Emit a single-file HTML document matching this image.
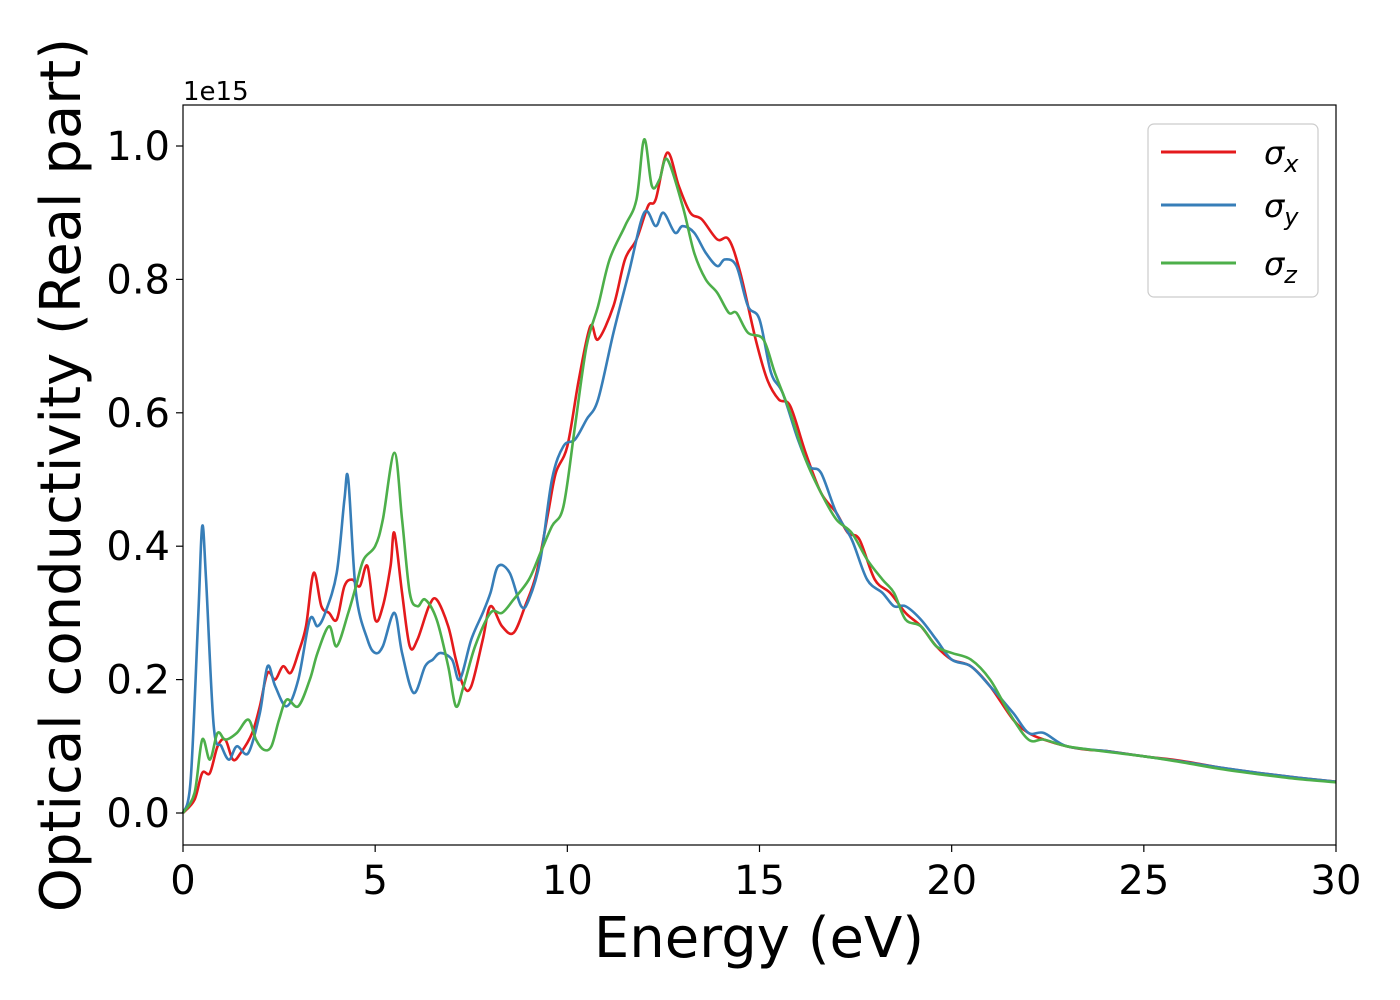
<!DOCTYPE html>
<html><head><meta charset="utf-8"><style>
body{margin:0;background:#fff;}
svg{display:block;font-family:"DejaVu Sans","Liberation Sans",sans-serif;}
</style></head><body>
<svg id="chart" width="1400" height="1000" xmlns="http://www.w3.org/2000/svg">
<rect width="1400" height="1000" fill="#fff"/>
<g id="plot"></g>
<rect x="183" y="105" width="1153" height="740" fill="none" stroke="#000" stroke-width="1.2"/>
<g id="ticks"></g>
<text x="183" y="100" font-size="26">1e15</text>
<text x="759" y="957" font-size="56" text-anchor="middle">Energy (eV)</text>
<text transform="translate(80,475) rotate(-90)" font-size="56" text-anchor="middle">Optical conductivity (Real part)</text>
<g>
<rect x="1148" y="124" width="170" height="173" rx="6" fill="#fff" stroke="#ccc" stroke-width="1.2"/>
<line x1="1161" y1="152" x2="1236" y2="152" stroke="#e41a1c" stroke-width="3"/>
<text x="1264" y="164" font-size="32" font-style="italic">σ<tspan font-size="24" dy="8">x</tspan></text>
<line x1="1161" y1="205" x2="1236" y2="205" stroke="#377eb8" stroke-width="3"/>
<text x="1264" y="217" font-size="32" font-style="italic">σ<tspan font-size="24" dy="8">y</tspan></text>
<line x1="1161" y1="263" x2="1236" y2="263" stroke="#4daf4a" stroke-width="3"/>
<text x="1264" y="275" font-size="32" font-style="italic">σ<tspan font-size="24" dy="8">z</tspan></text>
</g>
</svg>
<script>
const xTicks=[0,5,10,15,20,25,30];
const yTicks=[0,0.2,0.4,0.6,0.8,1.0];
const yTickLabels=["0.0","0.2","0.4","0.6","0.8","1.0"];
const redX=[0,0.3,0.5,0.7,0.9,1.1,1.3,1.5,1.8,2.0,2.2,2.4,2.6,2.8,3.0,3.2,3.4,3.6,3.8,4.0,4.2,4.4,4.6,4.8,5.0,5.2,5.4,5.5,5.7,5.9,6.1,6.4,6.6,6.9,7.1,7.3,7.5,7.8,8.0,8.3,8.6,8.9,9.2,9.5,9.7,10.0,10.3,10.6,10.8,11.2,11.5,11.8,12.1,12.3,12.6,12.9,13.2,13.5,13.9,14.2,14.5,14.9,15.2,15.5,15.8,16.2,16.6,17.0,17.3,17.6,18.0,18.4,18.8,19.2,19.6,20.0,20.5,21.0,21.6,22.0,22.4,23.0,23.5,24,25,26,27,28,29,30];
const redY=[0,0.02,0.06,0.06,0.10,0.11,0.08,0.09,0.12,0.16,0.21,0.20,0.22,0.21,0.24,0.28,0.36,0.31,0.30,0.29,0.34,0.35,0.34,0.37,0.29,0.31,0.37,0.42,0.33,0.25,0.26,0.31,0.32,0.28,0.23,0.19,0.19,0.26,0.31,0.28,0.27,0.31,0.36,0.45,0.51,0.55,0.65,0.73,0.71,0.76,0.83,0.86,0.91,0.92,0.99,0.94,0.90,0.89,0.86,0.86,0.81,0.71,0.65,0.62,0.61,0.54,0.48,0.45,0.42,0.41,0.35,0.33,0.30,0.28,0.25,0.23,0.22,0.19,0.14,0.12,0.11,0.10,0.095,0.093,0.085,0.078,0.068,0.06,0.053,0.047];
const blueX=[0,0.2,0.4,0.5,0.6,0.8,1.0,1.2,1.4,1.7,2.0,2.2,2.4,2.7,3.0,3.3,3.5,3.7,4.0,4.2,4.3,4.5,4.8,5.0,5.2,5.5,5.7,6.0,6.3,6.5,6.7,7.0,7.2,7.5,7.8,8.0,8.2,8.5,8.8,9.0,9.3,9.6,9.9,10.2,10.5,10.8,11.2,11.6,12.0,12.3,12.5,12.8,13.0,13.3,13.6,13.9,14.1,14.4,14.7,15.0,15.3,15.6,16.0,16.3,16.6,17.0,17.4,17.8,18.2,18.5,18.8,19.2,19.6,20.0,20.5,21.0,21.6,22.0,22.4,23,24,25,26,27,28,29,30];
const blueY=[0,0.05,0.30,0.43,0.35,0.13,0.10,0.08,0.10,0.09,0.15,0.22,0.19,0.16,0.20,0.29,0.28,0.30,0.36,0.47,0.50,0.33,0.26,0.24,0.25,0.30,0.24,0.18,0.22,0.23,0.24,0.23,0.20,0.26,0.30,0.33,0.37,0.36,0.31,0.32,0.38,0.50,0.55,0.56,0.59,0.62,0.72,0.81,0.90,0.88,0.90,0.87,0.88,0.87,0.84,0.82,0.83,0.82,0.76,0.74,0.66,0.63,0.56,0.52,0.51,0.45,0.41,0.35,0.33,0.31,0.31,0.29,0.26,0.23,0.22,0.19,0.15,0.12,0.12,0.10,0.093,0.085,0.077,0.068,0.06,0.053,0.047];
const greenX=[0,0.3,0.5,0.7,0.9,1.1,1.4,1.7,1.9,2.1,2.3,2.5,2.7,3.0,3.3,3.5,3.8,4.0,4.3,4.5,4.7,5.0,5.2,5.5,5.7,5.9,6.1,6.3,6.6,6.9,7.1,7.3,7.6,8.0,8.3,8.6,9.0,9.3,9.6,9.9,10.2,10.5,10.8,11.1,11.5,11.8,12.0,12.2,12.4,12.6,13.0,13.3,13.6,13.9,14.2,14.4,14.7,15.1,15.4,15.8,16.2,16.6,17.0,17.4,17.8,18.2,18.5,18.8,19.2,19.6,20.0,20.5,21.0,21.5,22.0,22.4,23,24,25,26,27,28,29,30];
const greenY=[0,0.03,0.11,0.08,0.12,0.11,0.12,0.14,0.11,0.095,0.10,0.14,0.17,0.16,0.20,0.24,0.28,0.25,0.30,0.34,0.38,0.40,0.44,0.54,0.44,0.33,0.31,0.32,0.29,0.22,0.16,0.19,0.25,0.30,0.30,0.32,0.35,0.39,0.43,0.46,0.58,0.70,0.76,0.83,0.88,0.92,1.01,0.94,0.95,0.98,0.91,0.84,0.80,0.78,0.75,0.75,0.72,0.71,0.66,0.60,0.53,0.48,0.44,0.42,0.38,0.35,0.33,0.29,0.28,0.25,0.24,0.23,0.20,0.15,0.11,0.11,0.10,0.092,0.085,0.076,0.066,0.058,0.051,0.046];

const NS="http://www.w3.org/2000/svg";
const X0=183,X1=1336,YZ=813,YO=146;
function sx(v){return X0+(X1-X0)*v/30;}
function sy(v){return YZ-(YZ-YO)*v;}
function pathD(xs,ys){
  const p=xs.map((x,i)=>[sx(x),sy(ys[i])]);
  let d="M"+p[0][0]+","+p[0][1];
  for(let i=0;i<p.length-1;i++){
    const a=p[Math.max(0,i-1)],b=p[i],c=p[i+1],e=p[Math.min(p.length-1,i+2)];
    const c1x=b[0]+(c[0]-a[0])/6,c1y=b[1]+(c[1]-a[1])/6;
    const c2x=c[0]-(e[0]-b[0])/6,c2y=c[1]-(e[1]-b[1])/6;
    d+=" C"+c1x+","+c1y+" "+c2x+","+c2y+" "+c[0]+","+c[1];
  }
  return d;
}
const plot=document.getElementById("plot");
[["series-sigma-x",redX,redY,"#e41a1c"],["series-sigma-y",blueX,blueY,"#377eb8"],["series-sigma-z",greenX,greenY,"#4daf4a"]].forEach(s=>{
  const el=document.createElementNS(NS,"path");
  el.setAttribute("d",pathD(s[1],s[2]));
  el.setAttribute("fill","none");
  el.setAttribute("stroke",s[3]);
  el.setAttribute("stroke-width","2.6");
  el.setAttribute("stroke-linejoin","round");
  
  
  plot.appendChild(el);
});
const tg=document.getElementById("ticks");
xTicks.forEach(v=>{
  const l=document.createElementNS(NS,"line");
  l.setAttribute("x1",sx(v));l.setAttribute("x2",sx(v));l.setAttribute("y1",845);l.setAttribute("y2",852);
  l.setAttribute("stroke","#000");l.setAttribute("stroke-width","1.2");
  
  
  tg.appendChild(l);
  const t=document.createElementNS(NS,"text");
  t.setAttribute("x",sx(v));t.setAttribute("y",894);t.setAttribute("font-size","40");t.setAttribute("text-anchor","middle");
  t.textContent=String(v);
  
  
  tg.appendChild(t);
});
yTicks.forEach((v,i)=>{
  const l=document.createElementNS(NS,"line");
  l.setAttribute("x1",176);l.setAttribute("x2",183);l.setAttribute("y1",sy(v));l.setAttribute("y2",sy(v));
  l.setAttribute("stroke","#000");l.setAttribute("stroke-width","1.2");
  
  
  tg.appendChild(l);
  const t=document.createElementNS(NS,"text");
  t.setAttribute("x",170);t.setAttribute("y",sy(v)+14);t.setAttribute("font-size","40");t.setAttribute("text-anchor","end");
  t.textContent=yTickLabels[i];
  
  
  tg.appendChild(t);
});
</script>
</body></html>
